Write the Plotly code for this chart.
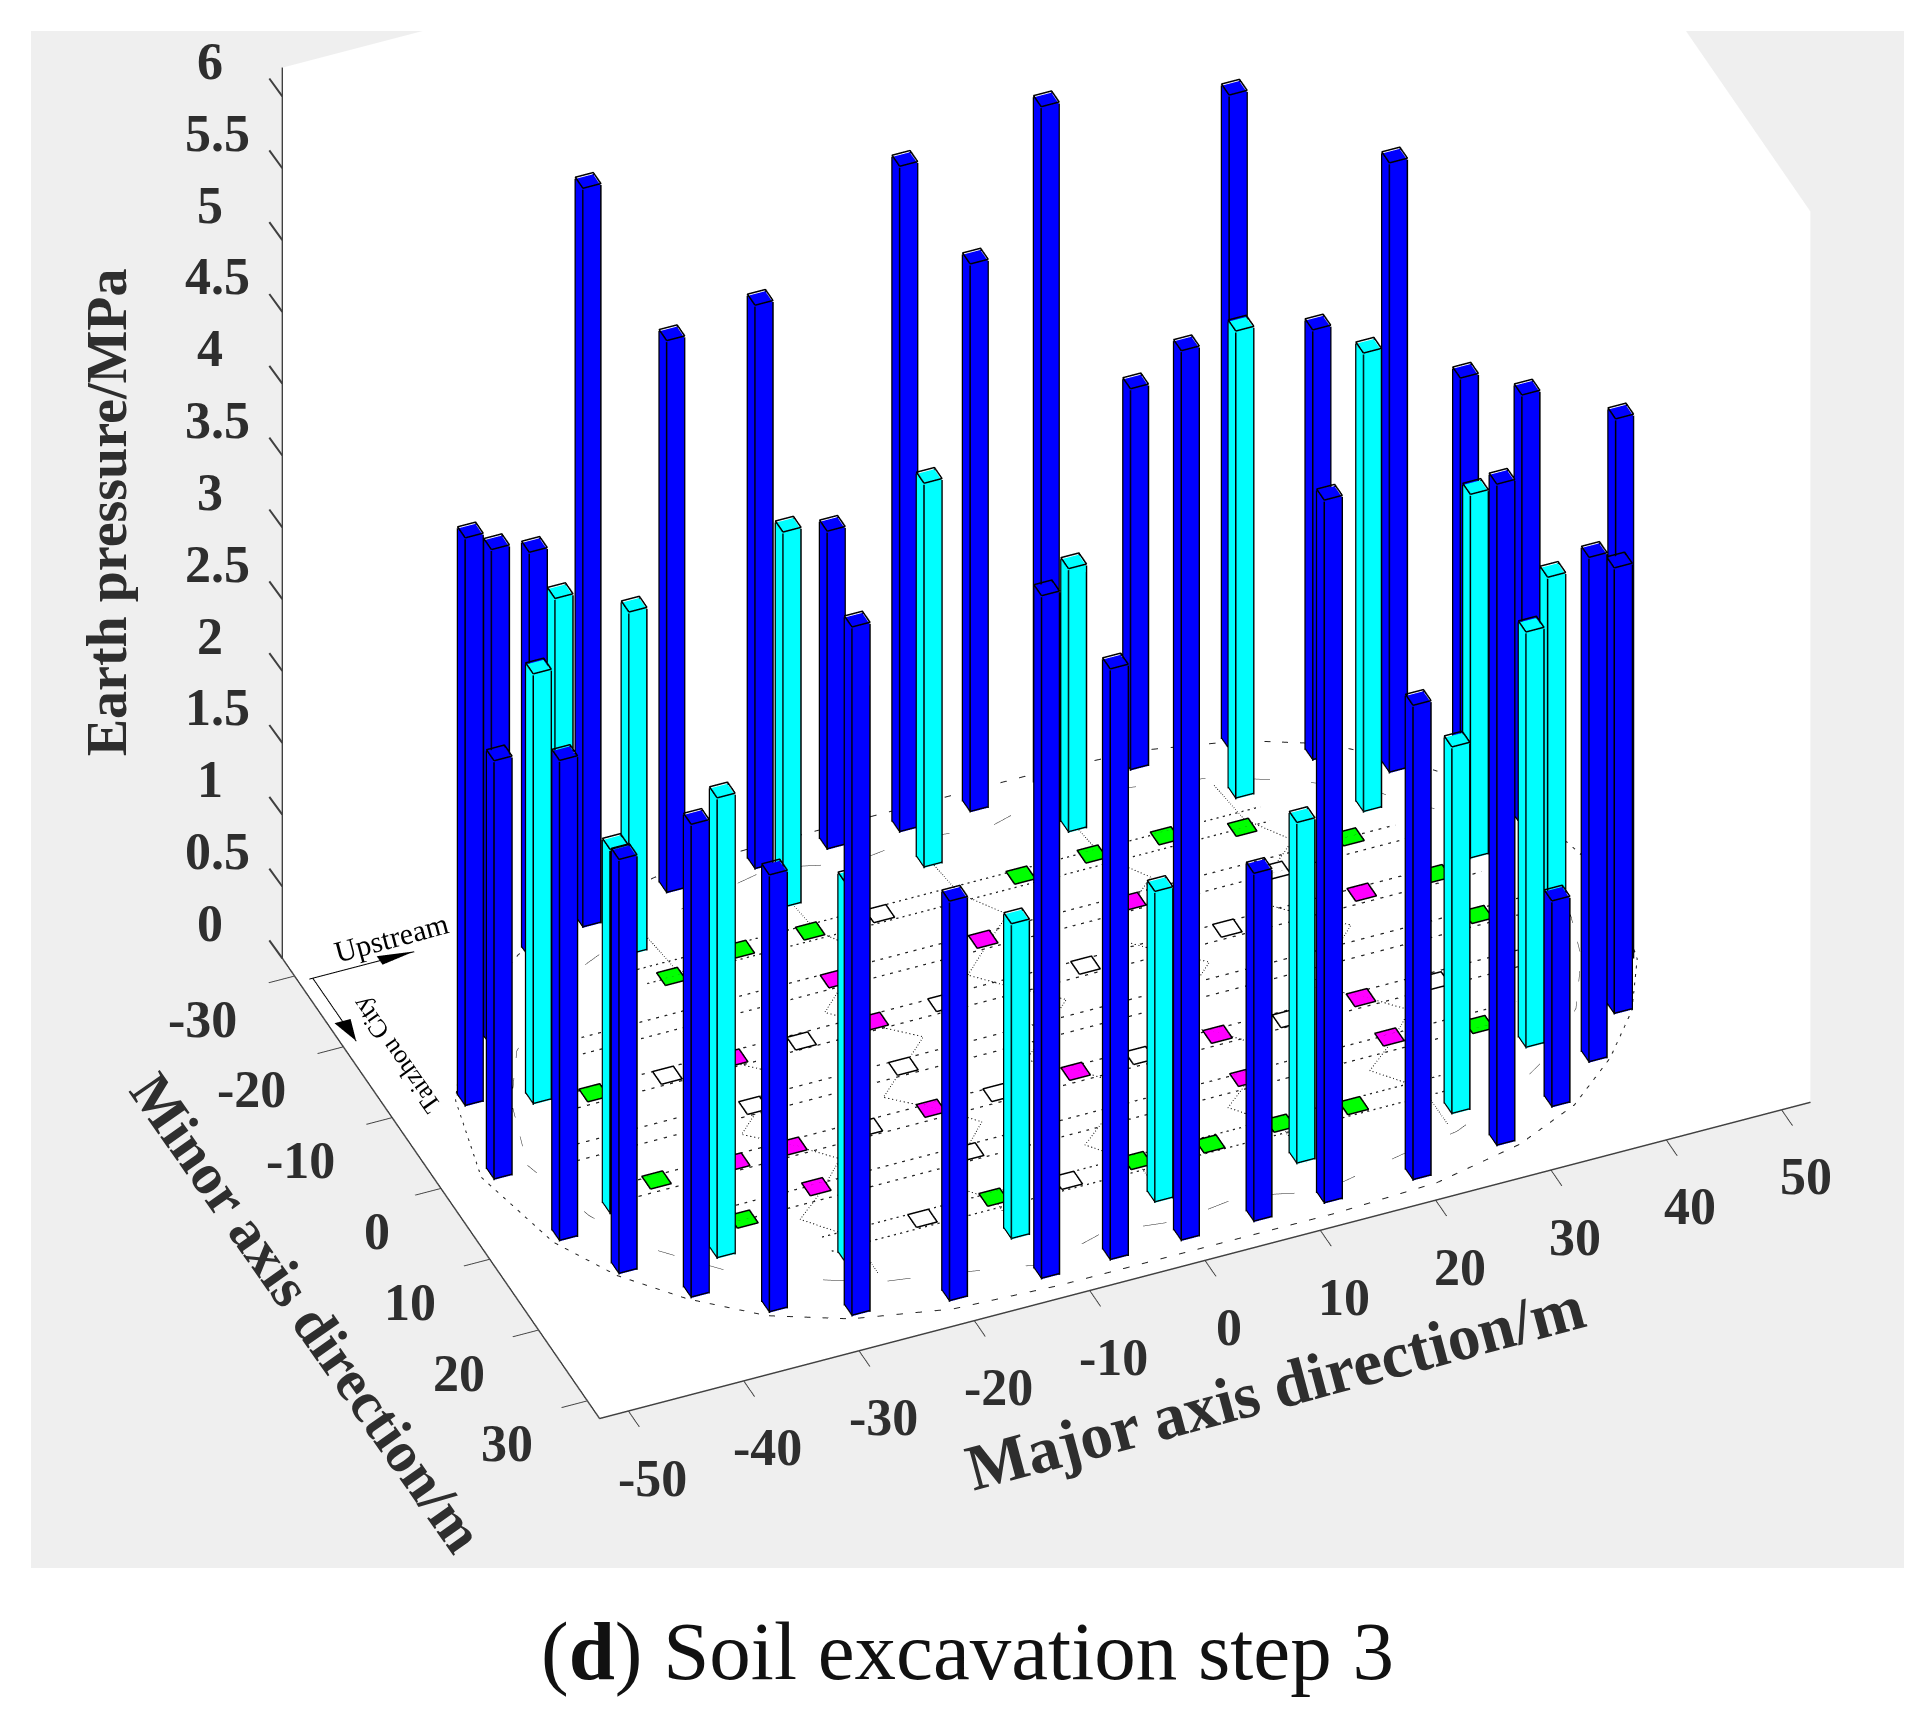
"""Earth pressure on the diaphragm wall struts, soil excavation step 3."""

import plotly.graph_objects as go

# bars (major axis m, minor axis m, pressure MPa)
blue_x = [-45.8, -40.9, -47.4, -33.6, -45.7, -28.1, -20.2, -43.0, -38.9, -12.5, -6.2, -28.0, -33.9, 0.0, 6.2, -20.1, -12.2,
          12.4, -6.2, 20.1, 0.0, 28.4, 6.3, 12.4, 34.0, 39.0, 20.1, 43.5, 28.0, 46.0, 34.0, 39.0, 43.3, 46.0]
blue_y = [-9.8, -16.0, -0.1, -25.5, 9.3, -27.5, -29.0, 15.1, 20.2, -29.1, -29.2, 27.4, 24.4, -29.0, -29.2, 28.7, 28.9,
          -29.3, 28.8, -29.2, 28.7, -28.6, 28.7, 28.7, -24.7, -20.8, 28.7, -16.9, 27.2, -10.2, 24.3, 20.1, 15.1, 9.0]
blue_h = [3.95, 3.46, 2.91, 2.82, 3.34, 5.14, 3.84, 2.88, 3.29, 3.92, 2.21, 4.79, 3.04, 4.63, 3.81, 2.78, 4.75,
          4.77, 4.11, 2.65, 6.19, 4.55, 2.42, 4.89, 2.99, 4.24, 3.30, 2.84, 4.60, 3.00, 1.43, 3.51, 3.10, 3.78]

cyan_x = [-33.1, -40.7, -26.1, -40.6, -35.0, -12.4, -25.8, 0.0, -12.4, 12.4, 0.0, 26.4, 12.4, 35.1, 26.3, 40.6, 35.1, 39.9]
cyan_y = [-21.4, -7.9, -22.8, 7.6, 16.3, -23.6, 20.9, -24.0, 23.2, -23.7, 23.3, -22.5, 23.1, -16.9, 22.0, -8.0, 16.4, 9.5]
cyan_h = [2.69, 2.99, 2.38, 2.53, 3.20, 2.61, 2.64, 2.67, 2.19, 1.83, 2.16, 3.25, 2.37, 3.19, 2.55, 2.53, 2.89, 2.83]

# gauge tiles on the plan
green_x = [24.6, 18.5, 12.2, 5.9, -12.4, -18.5, -24.9, 32.0, 36.5, 37.5, 32.0, 18.7, 12.4, 6.2, 0.0, -12.4, -31.9, -36.3, -36.5]
green_y = [-18.0, -19.4, -19.5, -19.2, -19.1, -19.1, -18.0, -13.5, -6.4, -0.2, 13.0, 18.8, 18.6, 18.9, 18.6, 18.5, 13.3, 5.9, -6.5]
pink_x = [30.1, 12.7, -0.1, -12.3, -13.0, 12.3, 24.7, 24.8, 0.0, -12.5, -24.9, -24.6, -24.5, -29.6, 12.1]
pink_y = [-6.5, -12.6, -12.7, -6.3, -12.6, 6.0, 6.1, 11.7, 6.0, 5.9, 11.7, 6.1, -6.3, 6.2, 12.0]
white_x = [24.9, -6.4, 18.4, 6.1, -6.3, -18.6, -12.4, -30.2, 18.2, 5.5, -25.4, -6.8, -6.1, -18.7, -18.1, -11.9, 31.0]
white_y = [-11.8, -19.0, -6.4, -6.4, -6.4, -6.2, 0.0, -6.3, 6.3, 6.1, 0.0, 6.1, 18.8, 18.8, 6.2, 12.3, 6.4]

# plan outline of the wall and the ring inside it
plan_x = [-49, -47, -44, -40, -35, -29, -21, -12, 0, 12, 21, 29, 35, 40, 44, 47, 49,
          47, 44, 40, 35, 29, 21, 12, 0, -12, -21, -29, -35, -40, -44, -47, -49]
plan_y = [0, 10, 16, 21, 25.5, 28.5, 30.5, 31, 31, 31, 30.5, 28.5, 25.5, 21, 16, 10, 0,
          -10, -16, -21, -25.5, -28.5, -30.5, -31, -31, -31, -30.5, -28.5, -25.5, -21, -16, -10, 0]
ring_x = [-45, -43, -40, -36, -31, -25, -20, -12, -6, 0, 6, 12, 20, 25, 31, 36, 40, 43, 45,
          43, 40, 36, 31, 25, 20, 12, 6, 0, -6, -12, -20, -25, -31, -36, -40, -43, -45]
ring_y = [0, 8, 14, 18.5, 22, 25, 26, 28, 26, 27, 26, 28, 26, 25, 22, 18.5, 14, 8, 0,
          -8, -14, -18.5, -22, -25, -26, -28, -26, -27, -26, -28, -26, -25, -22, -18.5, -14, -8, 0]
row_y = [-19, -12.6, -6.3, 0, 6.2, 12.3, 18.8]
row_half = [27, 36, 40, 42, 40, 36, 27]
column_x = [-24.7, -12.4, 0, 12.4, 24.7]
column_y = [-24, -19, -15, -12.6, -9, -6.3, -3, 0, 3, 6.2, 9, 12.3, 15, 18.8, 24]
column_wiggle = [0, 0.5, 3, 0.5, -3, -0.5, 3, 0, -3, 0.5, 3, 0, -3, 0, 0]

x_ticks = [-50, -40, -30, -20, -10, 0, 10, 20, 30, 40, 50]
y_ticks = [-30, -20, -10, 0, 10, 20, 30]
z_ticks = [0, 0.5, 1, 1.5, 2, 2.5, 3, 3.5, 4, 4.5, 5, 5.5, 6]
x_limit = 52.5
y_limit = 32.5
z_limit = 6.2

bar_w = 1.5
edge_gap = 0.03  # keeps the edge lines just outside the faces
tile_w = 1.8
label_font = dict(family="Liberation Serif", size=52, color="#2E2E2E")
title_font = dict(family="Liberation Serif", size=57, color="#2E2E2E")


def bar_traces(xs, ys, hs, color):
    # one mesh for the faces, one line trace for the black edges
    vx, vy, vz, ii, jj, kk = [], [], [], [], [], []
    ex, ey, ez = [], [], []
    half = bar_w / 2
    for x, y, h in zip(xs, ys, hs):
        x0, x1 = x - half, x + half
        y0, y1 = -y - half, -y + half
        n = len(vx)
        vx += [x0, x1, x1, x0, x0, x1, x1, x0]
        vy += [y0, y0, y1, y1, y0, y0, y1, y1]
        vz += [0, 0, 0, 0, h, h, h, h]
        for a, b, c in [(0, 1, 5), (0, 5, 4), (1, 2, 6), (1, 6, 5), (2, 3, 7), (2, 7, 6),
                        (3, 0, 4), (3, 4, 7), (4, 5, 6), (4, 6, 7)]:
            ii.append(n + a)
            jj.append(n + b)
            kk.append(n + c)
        lx0, lx1 = x0 - edge_gap, x1 + edge_gap
        ly0, ly1 = y0 - edge_gap, y1 + edge_gap
        ex += [lx0, lx1, lx1, lx0, lx0, None, lx0, lx1, lx1, lx0, lx0, None]
        ey += [ly0, ly0, ly1, ly1, ly0, None, ly0, ly0, ly1, ly1, ly0, None]
        ez += [0.01, 0.01, 0.01, 0.01, 0.01, None, h + 0.01, h + 0.01, h + 0.01, h + 0.01, h + 0.01, None]
        for px, py in [(lx0, ly0), (lx1, ly0), (lx1, ly1), (lx0, ly1)]:
            ex += [px, px, None]
            ey += [py, py, None]
            ez += [0, h, None]
    mesh = go.Mesh3d(x=vx, y=vy, z=vz, i=ii, j=jj, k=kk, color=color, flatshading=True,
                     lighting=dict(ambient=1, diffuse=0, specular=0, fresnel=0), hoverinfo="skip")
    edges = go.Scatter3d(x=ex, y=ey, z=ez, mode="lines", line=dict(color="#000000", width=3), hoverinfo="skip")
    return [mesh, edges]


def tile_traces(xs, ys, color):
    vx, vy, ii, jj, kk = [], [], [], [], []
    ex, ey, ez = [], [], []
    s = tile_w / 2
    for x, y in zip(xs, ys):
        n = len(vx)
        corners_x = [x - s, x + s, x + s, x - s]
        corners_y = [-y - s, -y - s, -y + s, -y + s]
        vx += corners_x
        vy += corners_y
        ii += [n, n]
        jj += [n + 1, n + 2]
        kk += [n + 2, n + 3]
        ex += corners_x + [x - s, None]
        ey += corners_y + [-y - s, None]
        ez += [0.01] * 5 + [None]
    mesh = go.Mesh3d(x=vx, y=vy, z=[0.006] * len(vx), i=ii, j=jj, k=kk, color=color,
                     lighting=dict(ambient=1, diffuse=0, specular=0, fresnel=0), hoverinfo="skip")
    edges = go.Scatter3d(x=ex, y=ey, z=ez, mode="lines", line=dict(color="#000000", width=3), hoverinfo="skip")
    return [mesh, edges]


def floor_line(xs, ys, dash="dot", width=2, color="#222222"):
    return go.Scatter3d(x=xs, y=[None if v is None else -v for v in ys], z=[None if v is None else 0.004 for v in xs],
                        mode="lines", line=dict(color=color, width=width, dash=dash), hoverinfo="skip")


fig = go.Figure()

fig.add_trace(floor_line(plan_x, plan_y))
fig.add_trace(floor_line(ring_x, ring_y, dash="dash", width=1))
for y, half in zip(row_y, row_half):
    fig.add_trace(floor_line([-half, half, None, -half, half], [y - 1, y - 1, None, y + 1, y + 1], width=2.5))
for x in column_x:
    fig.add_trace(floor_line([x + w for w in column_wiggle], column_y, width=2))

fig.add_traces(tile_traces(green_x, green_y, "#00FF00"))
fig.add_traces(tile_traces(pink_x, pink_y, "#FF00FF"))
fig.add_traces(tile_traces(white_x, white_y, "#FFFFFF"))

# direction arrows in the corner of the plan
fig.add_trace(floor_line([-51.6, -42.5, None, -51.3, -51.3], [-29.1, -29.1, None, -29.1, -20.2], dash="solid", width=2, color="#000000"))
fig.add_trace(go.Mesh3d(x=[-42.5, -45.5, -45.5, -51.3, -52.0, -50.6], y=[29.1, 29.7, 28.5, 20.2, 23.0, 23.0], z=[0.006] * 6,
                        i=[0, 3], j=[1, 4], k=[2, 5], color="#000000", hoverinfo="skip",
                        lighting=dict(ambient=1, diffuse=0, specular=0, fresnel=0)))

fig.add_traces(bar_traces(blue_x, blue_y, blue_h, "#0000FF"))
fig.add_traces(bar_traces(cyan_x, cyan_y, cyan_h, "#00FFFF"))

annotations = []
for v in z_ticks:
    label = f"{v:g}"
    annotations.append(dict(x=-x_limit, y=y_limit, z=v, text=f"<b>{label}</b>", showarrow=False, font=label_font,
                            xshift=-65 if "." in label else -72, yshift=35))
    # MATLAB draws the z ticks along the minor axis, plotly cannot
    annotations.append(dict(x=-x_limit, y=y_limit, z=v, text=" ", showarrow=True, arrowhead=0, arrowwidth=2,
                            arrowcolor="#404040", ax=-16, ay=-22, standoff=0))
for v in y_ticks:
    shift = -92 if v < 0 else (-64 if v == 0 else -80)
    annotations.append(dict(x=-x_limit, y=-v, z=0, text=f"<b>{v}</b>", showarrow=False, font=label_font,
                            xshift=shift, yshift=-43))
for v in x_ticks:
    annotations.append(dict(x=v, y=-y_limit, z=0, text=f"<b>{v}</b>", showarrow=False, font=label_font,
                            xshift=24, yshift=-67))

# axis titles sit on the middle of each edge
annotations.append(dict(x=0, y=-y_limit, z=0, text="<b>Major axis direction/m</b>", showarrow=False,
                        font=dict(title_font, size=65), textangle=-15, xshift=71, yshift=-127))
annotations.append(dict(x=-x_limit, y=0, z=0, text="<b>Minor axis direction/m</b>", showarrow=False,
                        font=dict(title_font, size=58), textangle=55, xshift=-134, yshift=-124))
annotations.append(dict(x=-x_limit, y=y_limit, z=3.1, text="<b>Earth pressure/MPa</b>", showarrow=False,
                        font=dict(title_font, size=56), textangle=-90, xshift=-175, yshift=1))
annotations.append(dict(x=-43.6, y=31.2, z=0, text="Upstream", showarrow=False,
                        font=dict(family="Liberation Serif", size=30, color="#000000"), textangle=-15, yshift=3))
annotations.append(dict(x=-49, y=17.4, z=0, text="Taizhou City", showarrow=False,
                        font=dict(family="Liberation Serif", size=26, color="#000000"), textangle=-125))

axis_common = dict(showgrid=False, zeroline=False, showspikes=False, showticklabels=False, showline=True,
                   linecolor="#404040", linewidth=3, ticks="outside", ticklen=28, tickwidth=2, tickcolor="#404040",
                   showbackground=True, backgroundcolor="#FFFFFF", title=dict(text=""), tickmode="array")

# camera for the MATLAB style orthographic view: azimuth 23 deg, elevation 38 deg
look_at = dict(x=-0.1616, y=-0.1181, z=-0.2200)
eye_dir = (-0.3078, -0.7254, 0.6155)
eye_dist = 2.5

fig.update_layout(
    width=1932,
    height=1714,
    margin=dict(l=0, r=0, t=0, b=0),
    paper_bgcolor="#FFFFFF",
    showlegend=False,
    scene=dict(
        domain=dict(x=[31 / 1932, 1904 / 1932], y=[1 - 1568 / 1714, 1 - 31 / 1714]),
        bgcolor="#EFEFEF",
        aspectmode="manual",
        aspectratio=dict(x=1.7116, y=1.0568, z=1.4706),
        camera=dict(
            projection=dict(type="orthographic"),
            up=dict(x=0, y=0, z=1),
            center=look_at,
            eye=dict(x=look_at["x"] + eye_dist * eye_dir[0], y=look_at["y"] + eye_dist * eye_dir[1],
                     z=look_at["z"] + eye_dist * eye_dir[2]),
        ),
        xaxis=dict(axis_common, range=[-x_limit, x_limit], tickvals=x_ticks),
        yaxis=dict(axis_common, range=[-y_limit, y_limit], tickvals=y_ticks),
        zaxis=dict(axis_common, range=[0, z_limit], ticks="", tickvals=z_ticks),
        annotations=annotations,
    ),
    annotations=[dict(x=785 / 1568, y=1 - 1340 / 1391, xref="paper", yref="paper", xanchor="center", yanchor="middle",
                      showarrow=False, text="(<b>d</b>) Soil excavation step 3",
                      font=dict(family="Liberation Serif", size=83, color="#111111"))],
)

fig.write_html("out.html", config=dict(displayModeBar=False), post_script="document.body.style.margin='0';")
